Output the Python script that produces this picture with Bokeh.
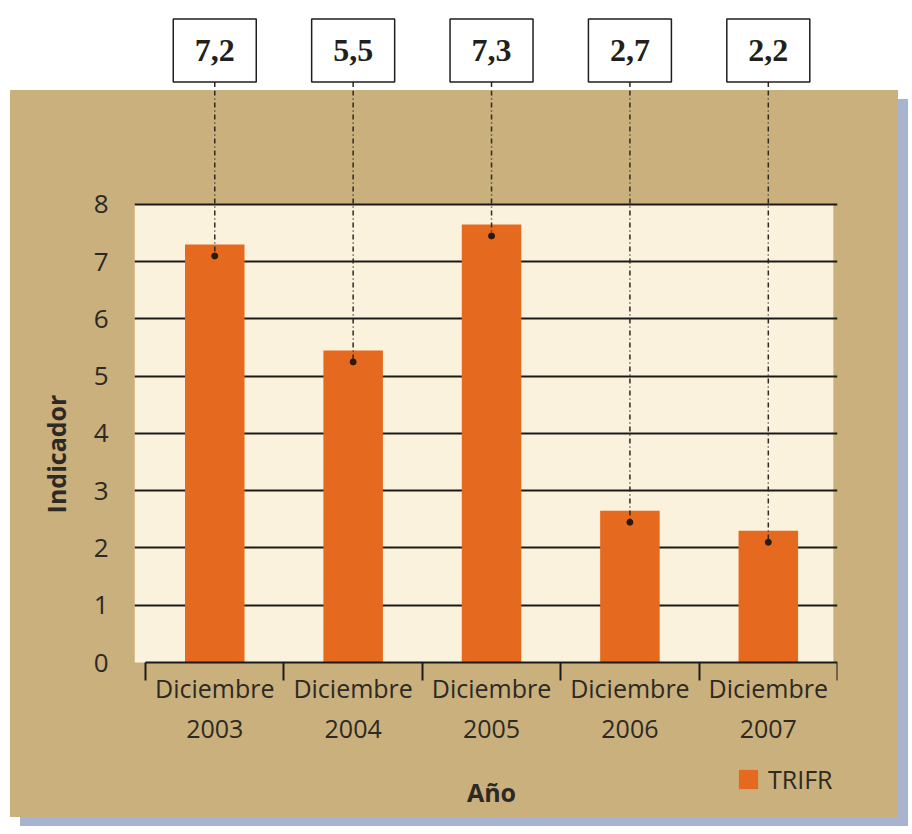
from bokeh.plotting import figure
from bokeh.models import Range1d, FixedTicker, LinearAxis, Legend, LegendItem, Grid
from bokeh.layouts import column
from bokeh.embed import file_html
from bokeh.resources import INLINE
from bokeh.core.properties import value

# ---- data ----
years = ["2003", "2004", "2005", "2006", "2007"]
month = "Diciembre"
bar_values = [7.3, 5.45, 7.65, 2.65, 2.3]
value_labels = ["7,2", "5,5", "7,3", "2,7", "2,2"]
y_ticks = [0, 1, 2, 3, 4, 5, 6, 7, 8]
series_name = "TRIFR"
y_title = "Indicador"
x_title = "Año"

# ---- style ----
TAN = "#c9b07c"
CREAM = "#faf2dc"
ORANGE = "#e5691e"
INK = "#2d2924"
LINE = "#1c1a18"
SANS = "Open Sans"

MARGIN_LEFT = 10
W = 888
L, R = 124, 61
X_START, X_END = -0.08, 5.0
Y_START, Y_END = -2.707, 9.99
TOP_H = 90
BOT_H = 727
BOX_Y = 40
BOX_W, BOX_H = 83, 63
DOT_OFF = 0.2

n = len(years)
xc = [i + 0.5 for i in range(n)]
dot_y = [v - DOT_OFF for v in bar_values]

# ---- top strip with the value boxes ----
top = figure(width=W, height=TOP_H, x_range=Range1d(X_START, X_END),
             y_range=Range1d(0, TOP_H), toolbar_location=None, output_backend="svg",
             min_border_left=L, min_border_right=R, min_border_top=0, min_border_bottom=0,
             x_axis_location=None, y_axis_location=None,
             background_fill_color="white", border_fill_color="white",
             outline_line_color=None, margin=(0, 0, 0, MARGIN_LEFT))
top.grid.visible = False
top.segment(x0=xc, y0=[BOX_Y - BOX_H / 2] * n, x1=xc, y1=[0] * n,
            line_color=INK, line_width=1.5, line_dash="5 3 1 3")
top.rect(x=xc, y=[BOX_Y] * n, width=BOX_W, height=BOX_H,
         width_units="screen", height_units="screen",
         fill_color="white", line_color="#1e1e1e", line_width=1.5)
top.text(x=xc, y=[BOX_Y] * n, text=value_labels, text_align="center",
         text_baseline="middle", text_font=value("Liberation Serif"),
         text_font_style="bold", text_font_size="32px", text_color="#231f1c")

# ---- main chart ----
bot = figure(width=W, height=BOT_H, x_range=Range1d(X_START, X_END),
             y_range=Range1d(Y_START, Y_END), toolbar_location=None, output_backend="svg",
             min_border_left=L, min_border_right=R, min_border_top=0, min_border_bottom=0,
             x_axis_location=None, y_axis_location=None,
             background_fill_color=TAN, border_fill_color=TAN,
             outline_line_color=None, margin=(0, 0, 0, MARGIN_LEFT),
             styles={"box-shadow": "10px 9px 0 #a8b4cf", "background-color": TAN})
bot.grid.visible = False

bot.quad(left=X_START, right=X_END - 0.03, bottom=0, top=y_ticks[-1],
         fill_color=CREAM, line_color=None, level="image")

grid = Grid(dimension=1, ticker=FixedTicker(ticks=y_ticks[1:]),
            grid_line_color=LINE, grid_line_width=2)
bot.add_layout(grid, "center")

bars = bot.vbar(x=xc, top=bar_values, bottom=0, width=0.43,
                fill_color=ORANGE, line_color=None)

bot.segment(x0=xc, y0=[Y_END] * n, x1=xc, y1=dot_y,
            line_color=INK, line_width=1.5, line_dash="5 3 1 3")
bot.scatter(x=xc, y=dot_y, size=6, color="#2a1a10", marker="circle")

yaxis = LinearAxis(ticker=FixedTicker(ticks=y_ticks), bounds=(0, y_ticks[-1]),
                   axis_line_color=None, major_tick_line_color=None,
                   major_tick_out=0, major_tick_in=0,
                   minor_tick_line_color=None, minor_tick_out=0, minor_tick_in=0,
                   major_label_text_font=SANS, major_label_text_font_size="26px",
                   major_label_text_color=INK, major_label_standoff=26,
                   axis_label=y_title, axis_label_text_font=SANS,
                   axis_label_text_font_style="bold", axis_label_text_font_size="25px",
                   axis_label_text_color=INK, axis_label_standoff=18)
bot.add_layout(yaxis, "left")

overrides = {xc[i]: f"{month}\n{years[i]}" for i in range(n)}
xaxis = LinearAxis(ticker=FixedTicker(ticks=xc, minor_ticks=list(range(n + 1))),
                   bounds=(0, n), fixed_location=0, major_label_overrides=overrides,
                   axis_line_color=LINE, axis_line_width=2,
                   major_tick_line_color=None, major_tick_in=0, major_tick_out=0,
                   minor_tick_line_color=LINE, minor_tick_line_width=2,
                   minor_tick_in=0, minor_tick_out=18,
                   major_label_text_font=SANS, major_label_text_font_size="25px",
                   major_label_text_color=INK, major_label_standoff=-10,
                   axis_label=x_title, axis_label_text_font=SANS,
                   axis_label_text_font_style="bold", axis_label_text_font_size="25px",
                   axis_label_text_color=INK, axis_label_standoff=27)
bot.add_layout(xaxis, "below")

legend = Legend(items=[LegendItem(label=series_name, renderers=[bars])],
                location=(602, 21), background_fill_alpha=0, border_line_color=None,
                padding=0, margin=0, glyph_width=24, glyph_height=24,
                label_text_font=SANS, label_text_font_size="25px",
                label_text_color=INK, label_standoff=8)
bot.add_layout(legend, "center")

layout = column(top, bot, spacing=0)
open("out.html", "w").write(file_html(layout, INLINE))
